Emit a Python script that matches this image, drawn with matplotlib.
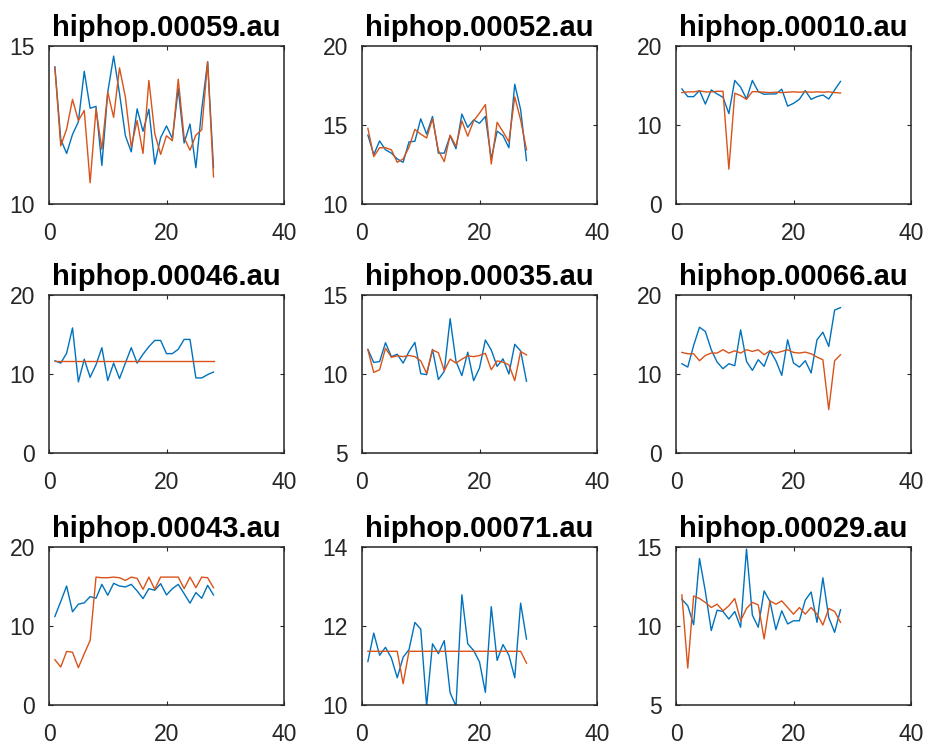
import numpy as np
import matplotlib
matplotlib.use("Agg")
from matplotlib import pyplot as plt

plt.rcParams['font.family'] = ['Liberation Sans', 'DejaVu Sans']

# Track names for each subplot (row by row)
titles = ['hiphop.00059.au', 'hiphop.00052.au', 'hiphop.00010.au',
          'hiphop.00046.au', 'hiphop.00035.au', 'hiphop.00066.au',
          'hiphop.00043.au', 'hiphop.00071.au', 'hiphop.00029.au']

# Feature per frame: measured (blue) and predicted (orange)
meas_59 = [14.34, 12.05, 11.6, 12.2, 12.6, 14.2, 13.03, 13.09, 11.22, 13.54,
           14.68, 13.5, 12.16, 11.65, 13.01, 12.3, 13.0, 11.26, 12.1, 12.47,
           12.07, 13.65, 11.93, 12.53, 11.15, 13.0, 14.5, 11.15]
pred_59 = [14.32, 11.84, 12.37, 13.31, 12.64, 12.96, 10.67, 13.01, 11.73, 13.54,
           12.74, 14.31, 13.38, 11.81, 12.64, 11.6, 13.91, 12.23, 11.57, 12.16,
           12.0, 13.95, 12.1, 11.7, 12.18, 12.35, 14.5, 10.86]

meas_52 = [14.36, 13.13, 13.99, 13.43, 13.22, 12.85, 12.64, 13.93, 13.97, 15.39,
           14.42, 15.54, 13.22, 13.22, 14.31, 13.5, 15.69, 14.85, 15.32, 15.11,
           15.54, 12.85, 14.61, 14.33, 13.56, 17.58, 15.97, 12.75]
pred_52 = [14.79, 13.0, 13.56, 13.56, 13.43, 12.64, 12.85, 13.6, 14.72, 14.42,
           14.18, 15.39, 13.39, 12.68, 14.36, 13.65, 15.26, 14.29, 15.26, 15.75,
           16.29, 12.53, 15.17, 14.57, 13.93, 16.78, 15.32, 13.43]

meas_10 = [14.57, 13.59, 13.59, 14.36, 12.65, 14.44, 13.93, 13.5, 11.45, 15.64,
           14.79, 13.29, 15.64, 14.23, 13.89, 13.93, 13.93, 14.53, 12.39, 12.74,
           13.25, 14.36, 13.25, 13.59, 13.8, 13.29, 14.44, 15.51]
pred_10 = [14.1, 14.19, 14.19, 14.32, 14.19, 14.19, 14.27, 14.27, 4.4, 14.02,
           13.72, 13.25, 14.23, 14.2, 14.15, 14.1, 14.15, 14.1, 14.15, 14.2,
           14.15, 14.2, 14.15, 14.2, 14.15, 14.2, 14.1, 14.05]

meas_46 = [11.67, 11.38, 12.63, 15.83, 9.0, 11.88, 9.58, 11.17, 13.33, 9.17,
           11.38, 9.42, 11.38, 13.33, 11.38, 12.5, 13.46, 14.25, 14.25, 12.58,
           12.58, 13.13, 14.38, 14.38, 9.5, 9.5, 9.92, 10.25]
pred_46 = [11.67] * 28

meas_35 = [11.56, 10.73, 10.79, 11.98, 11.1, 11.25, 10.69, 11.42, 12.0, 10.02,
           9.96, 11.56, 9.65, 10.17, 13.5, 10.79, 9.9, 11.38, 9.58, 10.38,
           12.15, 11.52, 10.48, 10.96, 10.0, 11.88, 11.46, 9.54]
pred_35 = [11.52, 10.1, 10.27, 11.63, 11.06, 11.15, 11.1, 11.17, 11.1, 10.83,
           10.04, 11.52, 11.35, 10.21, 10.94, 10.69, 10.94, 11.15, 11.1, 11.17,
           11.31, 10.27, 10.83, 10.75, 10.58, 9.58, 11.42, 11.21]

meas_66 = [11.3, 10.88, 13.61, 15.92, 15.38, 13.07, 11.51, 10.67, 11.3, 11.05,
           15.59, 11.6, 10.46, 11.81, 10.97, 12.98, 11.68, 9.83, 14.33, 11.39,
           10.88, 11.68, 10.13, 14.33, 15.29, 13.49, 18.1, 18.4]
pred_66 = [12.73, 12.56, 12.56, 11.68, 12.35, 12.65, 12.65, 13.07, 12.65, 12.94,
           12.65, 13.07, 12.86, 13.07, 12.44, 12.94, 12.65, 12.86, 13.07, 12.73,
           12.65, 12.77, 12.56, 12.14, 11.81, 5.5, 11.68, 12.44]

meas_43 = [11.21, 13.1, 15.06, 11.8, 12.76, 12.93, 13.72, 13.51, 15.27, 13.89,
           15.4, 15.06, 14.94, 15.27, 14.44, 13.47, 14.73, 14.52, 15.36, 13.93,
           14.73, 15.27, 14.1, 12.89, 14.23, 13.51, 15.15, 13.93]
pred_43 = [5.73, 4.81, 6.78, 6.69, 4.73, 6.49, 8.16, 16.19, 16.11, 16.11,
           16.19, 16.11, 15.77, 16.19, 16.03, 14.64, 16.19, 14.64, 16.19, 16.19,
           16.19, 16.19, 14.73, 16.19, 14.85, 16.19, 16.11, 14.85]

meas_71 = [11.1, 11.82, 11.26, 11.46, 11.19, 10.69, 11.21, 11.4, 12.09, 11.92,
           9.97, 11.55, 11.3, 11.63, 10.31, 9.97, 12.79, 11.55, 11.38, 11.09,
           10.32, 12.49, 11.13, 11.53, 11.26, 10.69, 12.58, 11.67]
pred_71 = [11.36, 11.36, 11.36, 11.36, 11.36, 11.36, 10.54, 11.36, 11.36, 11.36,
           11.36, 11.36, 11.36, 11.36, 11.36, 11.36, 11.36, 11.36, 11.36, 11.36,
           11.36, 11.36, 11.36, 11.36, 11.36, 11.36, 11.36, 11.06]

meas_29 = [11.69, 11.28, 10.08, 14.27, 12.18, 9.71, 11.0, 10.92, 10.44, 10.92,
           9.92, 14.87, 10.69, 9.92, 12.22, 11.55, 9.77, 10.96, 10.13, 10.33,
           10.33, 11.63, 12.15, 10.23, 13.05, 10.54, 9.6, 11.03]
pred_29 = [11.97, 7.34, 11.9, 11.74, 11.49, 11.17, 11.38, 10.96, 11.28, 11.74,
           10.33, 11.11, 11.49, 11.34, 9.18, 11.59, 11.38, 11.59, 11.17, 10.75,
           11.17, 10.75, 11.17, 10.75, 10.06, 11.11, 10.92, 10.23]

measured = [meas_59, meas_52, meas_10, meas_46, meas_35, meas_66, meas_43, meas_71, meas_29]
predicted = [pred_59, pred_52, pred_10, pred_46, pred_35, pred_66, pred_43, pred_71, pred_29]

# y ranges / ticks per subplot
ylims = [(10, 15), (10, 20), (0, 20), (0, 20), (5, 15), (0, 20), (0, 20), (10, 14), (5, 15)]
yticks = [[10, 15], [10, 15, 20], [0, 10, 20], [0, 10, 20], [5, 10, 15],
          [0, 10, 20], [0, 10, 20], [10, 12, 14], [5, 10, 15]]
xticks = [0, 20, 40]

W, H = 930, 748
lefts = [49, 362, 676]
tops = [46, 295, 547]
aw, ah = 235, 158

fig = plt.figure(figsize=(W / 100, H / 100), dpi=100)
dark = '#262626'

for i in range(9):
    r, c = divmod(i, 3)
    ax = fig.add_axes([lefts[c] / W, 1 - (tops[r] + ah) / H, aw / W, ah / H])
    x = np.arange(1, len(measured[i]) + 1)
    ax.plot(x, measured[i], color='#0072BD', lw=1.0)
    ax.plot(x, predicted[i], color='#D95319', lw=1.0)
    ax.set_xlim(0, 40)
    ax.set_ylim(*ylims[i])
    ax.set_xticks(xticks)
    ax.set_yticks(yticks[i])
    ax.tick_params(direction='in', top=True, right=True, length=3, width=0.8,
                   colors=dark, labelsize=16.5)
    ax.tick_params(axis='x', pad=13)
    ax.tick_params(axis='y', pad=10)
    for s in ax.spines.values():
        s.set_color(dark)
        s.set_linewidth(1.1)
    ax.set_title(titles[i], fontsize=21, fontweight='bold', pad=7.5)

fig.savefig('out.png', dpi=100)
